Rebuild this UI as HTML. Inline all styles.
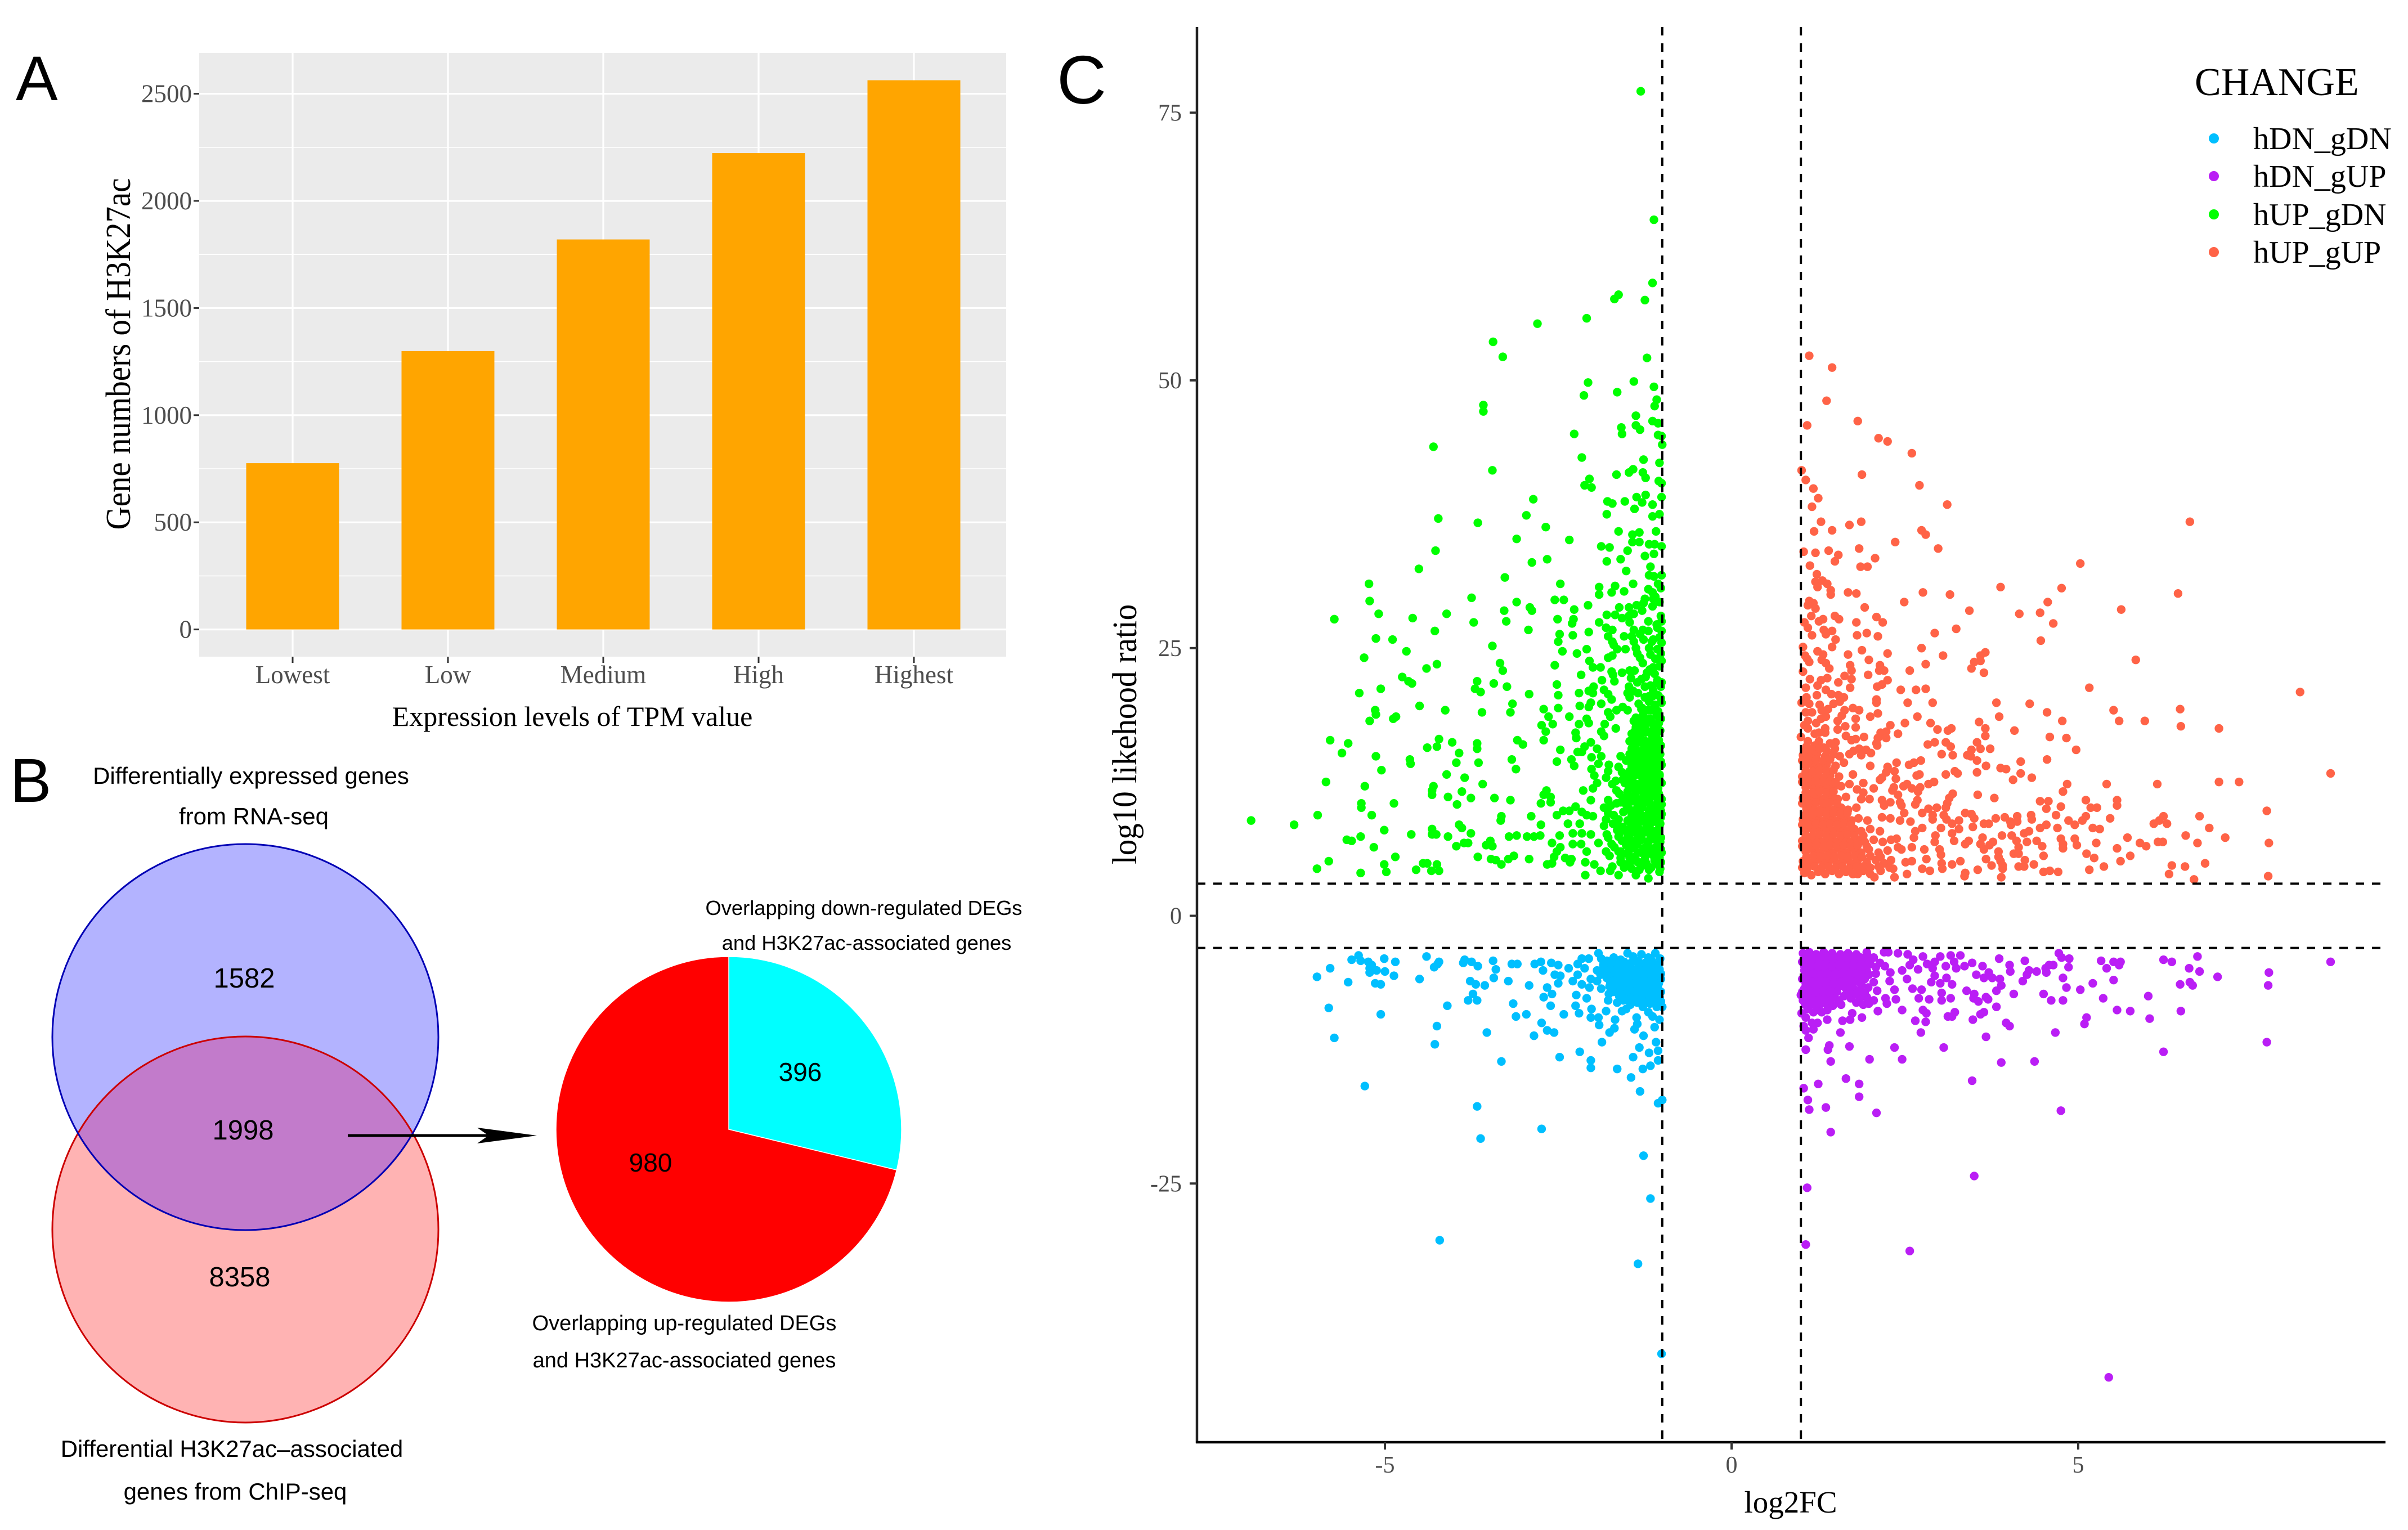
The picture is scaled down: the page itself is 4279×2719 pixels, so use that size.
<!DOCTYPE html>
<html lang="en">
<head>
<meta charset="utf-8">
<title>H3K27ac figure</title>
<style>
html,body{margin:0;padding:0;background:#fff}
svg{display:block}
text{white-space:pre}
.serif{font-family:"Liberation Serif",serif}
.sans{font-family:"Liberation Sans",sans-serif}
</style>
</head>
<body>
<svg id="fig" xmlns="http://www.w3.org/2000/svg" width="4279" height="2719" viewBox="0 0 4279 2719">
<rect x="0" y="0" width="4279" height="2719" fill="#fff"/>
<text class="sans" x="28" y="178" font-size="112">A</text>
<text class="sans" x="18" y="1425" font-size="110">B</text>
<text class="sans" x="1878" y="184" font-size="122">C</text>
<g id="panelA"></g>
<g id="panelB">
<defs><clipPath id="topClip"><circle cx="436" cy="1843" r="343"/></clipPath></defs>
<circle cx="436" cy="1843" r="343" fill="#B3B3FF"/>
<circle cx="436" cy="2185" r="343" fill="#FFB3B3"/>
<circle cx="436" cy="2185" r="343" fill="#C27BCB" clip-path="url(#topClip)"/>
<circle cx="436" cy="2185" r="343" fill="none" stroke="#CC0000" stroke-width="3"/>
<circle cx="436" cy="1843" r="343" fill="none" stroke="#0000B4" stroke-width="3"/>
<g id="pie"></g>
<line x1="618" y1="2018" x2="900" y2="2018" stroke="#000" stroke-width="5"/>
<polygon points="954,2018 848,2004 868,2018 848,2032" fill="#000"/>
<g class="sans" font-size="42" text-anchor="middle" fill="#000">
<text x="446" y="1393">Differentially expressed genes</text>
<text x="451" y="1465">from RNA-seq</text>
<text x="412" y="2589">Differential H3K27ac–associated</text>
<text x="418" y="2665">genes from ChIP-seq</text>
</g>
<g class="sans" font-size="49" text-anchor="middle" fill="#000">
<text x="434" y="1755">1582</text>
<text x="432" y="2025">1998</text>
<text x="426" y="2286">8358</text>
</g>
<g class="sans" font-size="36.3" text-anchor="middle" fill="#000">
<text x="1535" y="1626">Overlapping down-regulated DEGs</text>
<text x="1540" y="1688">and H3K27ac-associated genes</text>
</g>
<g class="sans" font-size="38" text-anchor="middle" fill="#000">
<text x="1216" y="2364">Overlapping up-regulated DEGs</text>
<text x="1216" y="2430">and H3K27ac-associated genes</text>
</g>
</g>
<g id="panelC"></g>
</svg>
<script>
// ---------- Panel A data ----------
const barCategories = ["Lowest", "Low", "Medium", "High", "Highest"];
const barValues = [776, 1299, 1820, 2223, 2563];
const barTickLabels = [0, 500, 1000, 1500, 2000, 2500];
const barMinorTicks = [250, 750, 1250, 1750, 2250];

// ---------- Panel B data ----------
const pieLabels = ["396", "980"];
const pieValues = [396, 980];

// ---------- Panel C data ----------
const volcanoXTicks = [-5, 0, 5];
const volcanoYTicks = [-25, 0, 25, 50, 75];
const xCutoffs = [-1, 1];
const yCutoffs = [-3, 3];
const seriesNames = ["hDN_gDN", "hDN_gUP", "hUP_gDN", "hUP_gUP"];

const hDnGdn = [[-1.01,-40.9],[-1.35,-32.5],[-4.21,-30.3],[-1.17,-26.4],[-1.27,-22.4],[-3.62,-20.8],[-2.74,-19.9],[-3.67,-17.8],[-1,-17.2],[-1.06,-17.5],[-1.32,-16.4],[-5.29,-15.9],[-1.45,-15.1],[-1.65,-14.3],[-1.28,-14.3],[-1.17,-14],[-2.03,-14.2],[-2.03,-13.5],[-3.32,-13.6],[-2.48,-13.2],[-1.42,-13.2],[-2.19,-12.7],[-1.06,-13.5],[-1.19,-12.8],[-1.06,-12.6],[-1.33,-12.3],[-1.09,-11.8],[-1.87,-11.8],[-4.28,-12],[-5.73,-11.4],[-2.85,-11.2],[-2.56,-10.9],[-1.27,-11.2],[-3.53,-10.9],[-2.66,-10.7],[-1.76,-10.9],[-4.25,-10.3],[-1.69,-10.5],[-1.11,-10.4],[-1.4,-10.6],[-2.74,-10],[-1.91,-10.2],[-1.36,-10.1],[-1.14,-9.4],[-1.04,-9.7],[-3.11,-9.4],[-5.06,-9.2],[-2.96,-9.2],[-2.42,-9.2],[-2.03,-9.5],[-1.92,-9.5],[-1.68,-9.7],[-1.37,-9.5],[-5.81,-8.6],[-4.1,-8.4],[-3.15,-8.2],[-2.61,-8.4],[-2.25,-8.4],[-2.2,-9.1],[-2.02,-8.7],[-1.81,-8.9],[-1.58,-8.9],[-1,-8.5],[-3.8,-7.9],[-3.67,-7.9],[-2.71,-7.6],[-2.59,-7.3],[-3.73,-7.3],[-2.24,-7.4],[-2.09,-7.7],[-1.78,-7.9],[-1.65,-8.1],[-3.56,-6.5],[-2.92,-6.5],[-2.66,-6.7],[-3.69,-6.4],[-3.77,-6.1],[-3.22,-6.1],[-2.29,-6.1],[-2.5,-6.3],[-3.43,-5.8],[-5.53,-6.2],[-5.14,-6.3],[-5.06,-6.4],[-4.5,-5.9],[-5.98,-5.7],[-4.87,-5.6],[-5,-5.2],[-5.12,-5.1],[-5.22,-5.3],[-5.22,-4.9],[-5.19,-4.6],[-5.24,-4.3],[-5.35,-4.2],[-5.48,-4.1],[-5.38,-3.7],[-5.01,-4],[-4.85,-4.3],[-5.79,-4.9],[-4.4,-3.8],[-4.22,-4.3],[-4.24,-4.5],[-4.29,-4.8],[-3.85,-4.1],[-3.87,-4.4],[-3.75,-4.3],[-3.66,-4.7],[-3.44,-4.2],[-3.4,-5],[-3.17,-4.5],[-3.09,-4.5],[-2.84,-4.5],[-2.75,-4.3],[-2.6,-4.4],[-2.5,-4.6],[-2.72,-5.1],[-2.35,-4.9],[-2.55,-5.5],[-2.47,-5.6],[-2.22,-5.5],[-2.22,-4.5],[-2.16,-4],[-2.06,-4],[-2.12,-4.9],[-2.03,-5.9],[-2.16,-6.4],[-2.05,-6.7],[-1.92,-3.5],[-1.88,-4],[-1.94,-5.1],[-1.94,-6.1],[-1.88,-6.8],[-1.77,-7.3],
[-1.8,-4.2],[-1.7,-3.9],[-1.6,-4.1],[-1.5,-3.5],[-1.42,-3.8],[-1.3,-3.6],[-1.2,-3.9],[-1.1,-3.5],[-1.03,-4],
[-1.84,-5],[-1.74,-4.8],[-1.64,-5],[-1.54,-4.7],[-1.44,-5],[-1.34,-4.7],[-1.24,-5],[-1.14,-4.7],[-1.04,-5],
[-1.8,-5.8],[-1.7,-5.7],[-1.6,-5.9],[-1.5,-5.6],[-1.4,-5.9],[-1.3,-5.6],[-1.2,-5.9],[-1.1,-5.6],[-1.02,-5.9],
[-1.76,-6.6],[-1.66,-6.8],[-1.56,-6.5],[-1.46,-6.8],[-1.36,-6.5],[-1.26,-6.8],[-1.16,-6.5],[-1.06,-6.8],
[-1.62,-7.5],[-1.52,-7.3],[-1.44,-7.6],[-1.34,-7.3],[-1.24,-7.6],[-1.14,-7.3],[-1.04,-7.6],
[-1.46,-8.3],[-1.36,-8.1],[-1.28,-8.5],[-1.18,-8.2],[-1.08,-8.5],[-1.52,-8.7],[-1.2,-9],
[-1.85,-4.6],[-1.75,-4.4],[-1.65,-4.5],[-1.55,-4.3],[-1.45,-4.4],[-1.35,-4.2],[-1.25,-4.4],[-1.15,-4.2],[-1.05,-4.5],
[-1.89,-5.5],[-1.79,-5.4],[-1.69,-5.3],[-1.59,-5.4],[-1.49,-5.2],[-1.39,-5.4],[-1.29,-5.2],[-1.19,-5.4],[-1.09,-5.2],[-1.02,-5.4],
[-1.75,-6.2],[-1.65,-6.3],[-1.55,-6.1],[-1.45,-6.3],[-1.35,-6.1],[-1.25,-6.3],[-1.15,-6.1],[-1.05,-6.3],
[-1.7,-7.1],[-1.6,-7],[-1.5,-7],[-1.4,-7.1],[-1.3,-7],[-1.2,-7.1],[-1.1,-7],[-1.02,-7.1],
[-1.56,-7.9],[-1.46,-7.8],[-1.38,-7.8],[-1.28,-7.9],[-1.18,-7.8],[-1.08,-7.9],[-1.02,-8]];

const hDnGup = [[8.64,-4.3],[6.72,-3.8],[6.23,-4.1],[6.35,-4.3],[6.6,-4.9],[6.75,-5.2],[7.01,-5.7],[7.75,-5.3],[7.74,-6.5],[6.47,-6.4],[6.61,-6.2],[6.65,-6.5],[6.01,-7.5],[6.48,-8.9],[6.03,-9.6],[7.72,-11.8],[6.23,-12.7],[5.33,-4.2],[5.51,-4.3],[5.61,-4.3],[5.59,-4.6],[5.41,-4.9],[5.51,-6],[5.21,-6.3],[5.36,-7.7],[5.56,-8.8],[5.75,-8.9],[5.12,-9.5],[5.09,-10.1],[4.67,-10.9],[4.72,-3.5],[4.76,-3.9],[4.87,-4],[4.64,-4.6],[4.58,-4.6],[4.53,-4.9],[4.54,-5.3],[4.86,-4.8],[4.78,-5.8],[4.83,-6.7],[5.03,-6.9],[4.78,-7.9],[4.61,-7.9],[4.5,-7.3],[4.07,-7.3],[3.86,-4],[4.23,-4.2],[4.01,-4.6],[4.02,-5.2],[4.29,-5.1],[4.4,-5.2],[4.26,-5.5],[4.2,-6.1],[3.87,-5.9],[3.89,-6.5],[3.82,-7],[3.82,-8.5],[3.64,-9],[3.59,-9.2],[3.96,-10],[4.01,-10.3],[3.48,-9.7],[3.67,-11.3],[4.37,-13.6],[3.89,-13.7],[3.47,-15.4],[4.75,-18.2],[3.5,-24.3],[5.44,-43.1],[2.57,-31.3],[1.07,-30.7],[1.09,-25.4],[2.09,-18.4],[1.43,-20.2],[1.36,-17.9],[1.12,-18.1],[1.1,-17.2],[1.04,-16.1],[1.25,-15.7],[1.65,-15.2],[1.84,-15.7],[1.84,-16.9],[1.43,-13.6],[1.99,-13.4],[2.46,-13.4],[2.35,-12.3],[3.06,-12.3],[1.7,-12.2],[1.41,-12.1],[1.39,-12.5],[1.07,-12.5],[1.11,-11.4],[1.57,-10.9],[2.73,-10.9],[2.65,-9.8],[2.8,-9.9],[2.76,-8.8],[2.81,-9.1],[2.46,-8.8],[3.12,-9.4],[3.18,-9.4],[3.22,-9],[2.85,-7.8],[2.7,-7.7],[3.03,-7.9],[3.16,-7.7],[3.03,-7.2],[3.49,-7.7],[3.56,-8],[3.67,-7.6],[3.7,-7.8],[3.5,-7.3],[3.39,-7],[2.61,-6.8],[2.74,-6.9],[2.88,-6.2],[3.01,-6.3],[3.18,-6.4],[3.1,-5.8],[2.93,-5.6],[2.53,-5.9],[3.53,-5.5],[3.64,-5.8],[3.76,-5.8],[3.71,-5.3],[3.62,-4.7],[3.47,-4.4],[3.36,-4.7],[3.24,-4.9],[3.09,-4.7],[2.9,-4.9],[2.82,-4.5],[3.3,-3.7],[3.16,-3.7],[3.01,-3.8],[2.76,-3.8],[3.21,-4.3],[2.93,-4.3],[2.54,-3.6],[2.4,-3.5],[2.26,-3.4],[2.2,-3.4],[2.62,-4.1],[2.57,-4.6],[2.69,-5],[2.46,-5.1],[2.29,-5.3],[2.21,-4.7],[2.14,-4.4],[2.28,-6.1],[2.35,-6.9],[2.37,-7.8],[2.22,-7.7],[2.24,-8.2],[2.11,-8.9],[1.88,-9.5],[1.71,-9.7],[1.6,-9.8],[1.74,-9.1],[1.38,-9.7],[1.24,-10],[1.16,-10],[1.18,-10.6],[1.07,-10.7],[1.04,-10.3],[1.01,-9.1],[1.07,-9.5],[1,-7.4],
[1.03,-3.5],[1.12,-3.4],[1.22,-3.6],[1.33,-3.4],[1.45,-3.5],[1.57,-3.6],[1.68,-3.5],[1.8,-3.6],[1.95,-3.4],[2.05,-3.9],
[1.02,-4.3],[1.1,-4.2],[1.2,-4.4],[1.3,-4.2],[1.4,-4.4],[1.5,-4.2],[1.6,-4.4],[1.7,-4.2],[1.8,-4.4],[1.9,-4.3],[2,-4.5],
[1.05,-5.1],[1.15,-5],[1.25,-5.2],[1.35,-5],[1.45,-5.2],[1.55,-5],[1.65,-5.2],[1.75,-5],[1.85,-5.2],[1.95,-5.1],[2.08,-5.4],
[1.02,-5.9],[1.12,-5.8],[1.22,-6],[1.32,-5.8],[1.42,-6],[1.52,-5.8],[1.62,-6],[1.72,-5.8],[1.82,-6],[1.92,-5.9],[2.05,-6.2],
[1.05,-6.8],[1.15,-6.6],[1.25,-6.8],[1.35,-6.6],[1.45,-6.8],[1.55,-6.6],[1.65,-6.8],[1.75,-6.7],[1.85,-6.9],[1.97,-6.7],[2.1,-7],
[1.08,-7.5],[1.18,-7.4],[1.28,-7.6],[1.38,-7.4],[1.48,-7.6],[1.62,-7.5],[1.72,-7.7],[1.85,-7.7],[1.95,-7.6],[2.05,-7.9],
[1.06,-8.3],[1.16,-8.2],[1.26,-8.4],[1.36,-8.2],[1.46,-8.4],[1.58,-8.3],[1.9,-8.3],[1.18,-9],[1.3,-9],
[1.06,-3.9],[1.16,-3.8],[1.26,-3.9],[1.36,-3.8],[1.46,-3.9],[1.56,-3.8],[1.66,-3.9],[1.76,-3.8],[1.86,-3.9],[1.97,-3.8],
[1.05,-4.7],[1.15,-4.6],[1.25,-4.7],[1.35,-4.6],[1.45,-4.7],[1.55,-4.6],[1.65,-4.7],[1.75,-4.6],[1.85,-4.7],[1.95,-4.6],[2.08,-4.8],
[1.08,-5.5],[1.18,-5.4],[1.28,-5.5],[1.38,-5.4],[1.48,-5.5],[1.58,-5.4],[1.68,-5.5],[1.78,-5.4],[1.88,-5.5],[1.98,-5.5],
[1.07,-6.3],[1.17,-6.2],[1.27,-6.3],[1.37,-6.2],[1.47,-6.3],[1.57,-6.2],[1.67,-6.3],[1.77,-6.2],[1.87,-6.4],
[1.02,-7.1],[1.12,-7],[1.22,-7.1],[1.32,-7],[1.42,-7.1],[1.52,-7.1],[1.7,-7.2],[1.8,-7.3],[1.92,-7.2],
[1.03,-7.9],[1.13,-7.8],[1.23,-7.9],[1.33,-7.8],[1.43,-7.9],[1.55,-7.9],[1.8,-8.1],[1.98,-8.2],[1.1,-8.7],[1.22,-8.8],[1.38,-8.8]];

const hUpGdn = [[-1.31,77],[-1.12,65],[-1.14,59.1],[-1.63,58],[-1.69,57.6],[-1.25,57.5],[-2.09,55.8],[-2.8,55.3],[-3.44,53.6],[-3.3,52.2],[-1.22,52.1],[-1.41,49.9],[-2.07,49.8],[-1.12,49.4],[-1.65,48.9],[-2.13,48.6],[-1.08,48.2],[-1.11,47.6],[-3.58,47.7],[-3.58,47.1],[-1.38,46.7],[-1.14,46.2],[-1.06,46],[-1.38,45.8],[-1.59,45.6],[-1.32,45.4],[-1.58,45],[-2.27,45],[-1.06,44.9],[-1.01,44.8],[-4.3,43.8],[-1,44],
[-2.16,42.8],[-1.27,42.6],[-1.04,42.3],[-3.45,41.6],[-1.42,41.7],[-1.48,41.4],[-1.66,41.2],[-1.28,41.4],[-1.24,40.9],[-2.05,40.8],[-1.05,40.6],[-1.01,40.4],[-2.12,40.2],[-2.02,40],[-1.01,39.1],[-1.24,39.3],[-1.37,39.1],[-2.86,38.9],[-1.79,38.7],[-1.72,38.5],[-1.54,38.7],[-1.29,38.6],[-1.14,38.4],[-1.4,38],[-1.8,37.5],[-2.96,37.4],[-1.14,37.3],[-1.04,37.5],[-4.23,37.1],[-3.66,36.7],[-2.68,36.3],[-1.63,35.9],[-1.33,35.8],[-1.43,35.6],[-1.09,35.9],[-3.1,35.2],[-2.34,35.1],[-1.43,34.9],[-1.33,34.9],[-1.19,34.7],[-1.11,34.7],[-1.01,34.5],[-1.88,34.5],[-1.76,34.4],[-4.27,34.1],[-1.5,34.1],[-1.12,33.8],[-1.25,33.6],[-1.6,33.3],[-2.66,33.3],[-1.8,33.1],[-2.88,33],[-1.17,32.6],[-4.51,32.4],[-1.52,32.2],[-1.19,31.8],[-1.01,31.8],[-3.27,31.6],[-1.12,31.7],[-1.06,31],[-5.23,31],[-2.47,31],[-1.68,30.8],[-1.42,31],[-1.91,30.7],[-1.55,30.3],[-1.73,30.2],[-1.91,30],[-1.14,30.2],[-1.02,30.6],[-3.75,29.7],[-5.22,29.4],[-2.55,29.5],[-2.42,29.5],[-3.1,29.3],[-1.25,29.6],[-1.13,29.6],[-1.27,29.2],[-1.04,29.3],[-2.07,29],[-1.62,28.8],[-1.14,28.9],[-2.91,28.8],[-3.28,28.5],[-1.48,28.8],[-2.27,28.6],[-2.88,28.5],[-1.29,28.5],[-5.09,28.2],[-4.11,28.2],[-1.8,28.1],[-1.68,28.1],[-1.41,28.2],[-1.58,27.8],[-1.48,28],[-1.02,28],[-5.73,27.7],[-4.6,27.8],[-2.51,27.7],[-2.28,27.7],[-3.25,27.5],[-1.47,27.4],[-3.72,27.4],[-1.91,27.4],[-2.3,27.3],[-1.01,27.5],
[-1.81,26.9],[-1.72,26.7],[-2.93,26.7],[-1.41,26.7],[-4.28,26.6],[-1.28,26.7],[-1.2,26.6],[-1.07,26.9],[-1.01,26.6],[-2.06,26.5],[-2.48,26.3],[-2.29,26.2],[-1.55,26.1],[-1.78,26.1],[-5.13,25.9],[-1.44,26.1],[-4.89,25.8],[-1.27,25.8],[-1.13,25.8],[-2.5,25.6],[-1.72,25.6],[-1.41,25.6],[-1.01,25.5],[-1.7,25.3],[-3.45,25.2],[-1.19,25],[-1.65,24.9],[-1.53,24.9],[-1.38,25],[-2.09,24.9],[-1.07,24.9],[-4.69,24.7],[-2.44,24.7],[-2.23,24.5],[-1.17,24.4],[-1.36,24.5],[-1.72,24.3],[-1.32,24.1],[-1.78,24.1],[-5.3,24.1],[-2.05,23.8],[-1.01,23.8],[-4.25,23.5],[-2.55,23.4],[-3.34,23.6],[-4.4,23.1],[-2,23.2],[-1.89,23.2],[-1.13,23.2],[-1.47,22.9],[-1.4,22.9],[-1.04,23.3],[-3.3,22.9],[-1.73,22.8],[-1.58,22.7],[-1.22,22.7],[-2.17,22.5],[-1.11,22.6],[-1.71,22.5],[-1.24,22.3],[-4.75,22.3],[-1.69,21.9],[-3.67,21.9],[-1.87,22],[-4.66,21.9],[-4.61,21.7],[-3.43,21.7],[-2.52,21.6],[-1.01,21.8],[-1.36,21.8],[-3.24,21.4],[-5.06,21.2],[-1.99,21.4],[-1.48,21.4],[-1.25,21.4],[-1.02,21.4],[-3.7,21.2],[-1.84,21.1],[-2.06,21],[-2,20.8],[-3.62,20.9],[-1.13,21],[-2.2,20.8],[-2.92,20.7],[-1.5,20.8],[-1.35,20.8],[-5.37,20.8],[-1.78,20.7],[-2.5,20.6],[-1.19,20.5],[-1.47,20.4],[-1.73,20.2],[-1.19,20],[-3.16,19.8],[-2.03,19.9],[-1.88,19.8],[-1.01,19.9],[-2.19,19.6],[-4.5,19.6],[-1.57,19.5],[-2.5,19.4],[-2.06,19.5],[-2.71,19.3],[-1.29,19.4],[-4.13,19.2],[-5.14,19.2],[-1.66,19.2],[-1.5,19.2],[-1.21,19.2],[-3.6,19],[-3.19,19],[-1.78,19],[-5.13,18.8],[-1.07,19],[-2.64,18.6],[-2.34,18.6],[-1.75,18.6],[-4.84,18.6],[-4.88,18.4],[-1.02,18.4],[-2.09,18.4],[-5.22,18.2],[-1.41,18.2],[-1.25,18.3],[-2.06,18],[-2.2,17.9],[-2.58,17.9],[-1.83,17.9],[-2.74,17.8],[-1.1,17.8],[-1.38,17.6],[-1.67,17.5],[-2.68,17.2],[-1.25,17.4],[-2.25,17.1],[-1.88,17.2],[-1.44,17],[-1.84,16.8],[-1.15,17],[-2.24,16.6],[-1.35,16.7],[-5.79,16.4],[-2.71,16.4],[-3.09,16.4],[-4.03,16.2],[-4.22,16.5],[-1.47,16.3],[-5.53,16.1],[-3.01,16],[-2.03,16.2],[-3.67,16.1],[-1.22,16.2],[-4.25,15.8],[-4.39,15.7],[-3.67,15.6],[-2.12,15.8],[-1.94,15.6],[-2.47,15.5],[-1.41,15.7],[-1.1,15.9],[-5.62,15.2],[-3.93,15.2],[-2.16,15.3],[-2.22,15.3],[-1.6,14.9],[-5.13,14.9],[-1.47,15.1],[-1.88,14.9],[-1.22,15.1],[-2.02,14.8],[-4.64,14.6],[-3.17,14.6],[-2.31,14.6],[-1.41,14.5],[-1.05,14.6],[-4.63,14.2],[-2.52,14.4],[-3.97,14.3],[-3.65,14.3],[-2.27,14],[-1.92,14.2],[-1.77,14.1],[-1.01,14.1],[-1.28,14.1],[-3.11,13.7],[-5.05,13.6],[-2.02,13.7],[-1.63,13.9],[-1.19,13.7],[-1.78,13.5],[-1.47,13.5],[-4.11,13.2],[-1.98,13.1],[-3.85,12.9],[-1.81,12.9],[-1.25,13.2],[-1.04,13.2],[-1.57,12.7],[-5.85,12.5],[-3.59,12.3],[-1.94,12.4],[-1.41,12.4],[-5.29,12.1],[-1.16,12.4],[-1.72,12.3],[-4.3,12.1],[-2,11.9],[-1.28,11.9],[-1.01,12.4],[-4.32,11.7],[-2.14,11.7],[-2.67,11.7],[-1.66,11.7],[-3.89,11.6],[-1.1,11.6],[-4.32,11.3],[-2.71,11.3],[-1.47,11.1],[-4.09,11.1],[-2.61,11.1],[-3.76,11],[-3.42,11],[-3.19,10.8],[-2.03,10.8],[-1.78,10.8],[-1.19,10.9],[-2.61,10.6],[-2.75,10.5],[-5.34,10.5],[-4.87,10.5],[-3.96,10.4],[-1.66,10.5],[-1.28,10.4],[-1.04,10.7],[-5.34,10.1],[-1.84,10.1],[-2.25,10.2],[-2.34,9.8],[-2.43,9.8],[-2.16,9.7],[-1.47,9.9],[-1.78,9.6],[-1.19,9.7],[-5.97,9.4],[-5.19,9.4],[-2.52,9.4],[-2.89,9.3],[-3.32,9.3],[-2.09,9.4],[-2,9.3],[-1.01,9.5],[-3.33,8.9],[-6.93,8.9],[-1.81,9],[-1.41,9],[-3.93,8.5],[-2.75,8.5],[-2.36,8.6],[-2.19,8.6],[-1.66,8.5],[-1.22,8.5],[-6.31,8.5],[-4.32,8.1],[-3.89,8.2],[-1.84,8.4],[-1.47,8.1],[-1.04,8.4],[-5.01,8],[-3.76,7.7],[-4.62,7.6],[-2.29,7.7],[-2.16,7.7],[-2.03,7.6],[-1.8,7.6],
[-3.1,7.5],[-3.21,7.4],[-4.32,7.6],[-4.26,7.6],[-2.95,7.4],[-2.48,7.5],[-2.76,7.5],[-2.85,7.4],[-4.09,7.4],[-1.63,7.4],[-1.35,7.4],[-5.35,7.4],[-5.55,7.1],[-5.48,7],[-3.48,7],[-3.8,6.8],[-3.86,6.8],[-2.59,6.8],[-2.29,6.7],[-2.17,6.7],[-1.92,6.8],[-1.73,6.7],[-1.53,7],[-1.19,7],[-3.54,6.6],[-3.97,6.5],[-3.45,6.5],[-5.16,6.4],[-2.47,6.4],[-1.41,6.5],[-1.04,6.4],[-2.52,6],[-1.81,6],[-2.09,6],[-1.63,6],[-1.22,5.8],[-2.56,5.5],[-4.85,5.5],[-3.14,5.6],[-3.66,5.5],[-3.22,5.3],[-3.47,5.3],[-3.4,5.2],[-2.92,5.3],[-2.4,5.4],[-2.31,5.3],[-1.47,5.4],[-1.04,5.4],[-5.81,5.1],[-2.33,5],[-2.11,5],[-4.45,4.9],[-4.39,4.9],[-4.25,4.8],[-5.01,4.8],[-3.32,4.8],[-2.66,4.8],[-2.59,4.9],[-1.98,4.8],[-1.6,5],[-1.35,5],[-5.98,4.4],[-4.55,4.3],[-4.33,4.2],[-4.22,4.2],[-4.98,4.1],[-5.35,4],[-1.89,4.2],[-1.75,4.2],[-1.44,4.4],[-1.19,4.3],[-1.04,4.1],[-2.11,3.8],[-1.63,3.8],[-1.38,3.8],[-1.2,3.5],
[-1.72,4.6],[-1.55,4.5],[-1.47,4.8],[-1.33,4.3],[-1.28,4.7],[-1.16,4.5],[-1.09,4.9],[-1.03,4.4],[-1.76,5.6],[-1.6,5.4],[-1.5,5.8],[-1.4,5.5],[-1.31,5.9],[-1.25,5.3],[-1.14,5.7],[-1.07,5.5],[-1.01,5.9],[-1.69,6.4],[-1.52,6.6],[-1.44,6.3],[-1.36,6.7],[-1.27,6.3],[-1.21,6.6],[-1.12,6.3],[-1.05,6.7],[-1.78,7.3],[-1.62,7.7],[-1.5,7.4],[-1.42,7.8],[-1.33,7.5],[-1.24,7.8],[-1.16,7.4],[-1.08,7.7],[-1.02,7.3],[-1.71,8.6],[-1.57,8.3],[-1.46,8.7],[-1.37,8.4],[-1.29,8.8],[-1.18,8.5],[-1.11,8.8],[-1.03,8.6],[-1.7,9.4],[-1.56,9.7],[-1.44,9.4],[-1.33,9.7],[-1.26,9.3],[-1.14,9.5],[-1.07,9.8],[-1.74,10.3],[-1.6,10.6],[-1.52,10.4],[-1.42,10.7],[-1.35,10.4],[-1.22,10.6],[-1.13,10.3],[-1.06,10.7],[-1.01,10.4],[-1.62,11.4],[-1.5,11.6],[-1.39,11.3],[-1.32,11.7],[-1.22,11.4],[-1.15,11.7],[-1.05,11.4],[-1.67,12.6],[-1.54,12.4],[-1.44,12.7],[-1.36,12.3],[-1.27,12.6],[-1.19,12.4],[-1.1,12.7],[-1.03,12.4],[-1.58,13.4],[-1.42,13.6],[-1.34,13.4],[-1.24,13.7],[-1.15,13.4],[-1.08,13.6],[-1.52,14.5],[-1.38,14.4],[-1.28,14.7],[-1.18,14.4],[-1.1,14.7],[-1.02,14.4],[-1.44,15.6],[-1.35,15.4],[-1.26,15.7],[-1.16,15.4],[-1.06,15.6],[-1.42,16.4],[-1.32,16.6],[-1.24,16.3],[-1.14,16.6],[-1.05,16.4],[-1.4,17.2],[-1.3,17.6],[-1.2,17.2],[-1.12,17.5],[-1.03,17.3],[-1.38,18.5],[-1.28,18.7],[-1.18,18.4],[-1.08,18.7],[-1.34,19.8],[-1.2,20.2],[-1.1,19.7],[-1.02,20.3],
[-1.36,5.1],[-1.23,4.9],[-1.11,5.2],[-1.02,5],[-1.46,5.2],[-1.57,4.9],
[-1.6,6],[-1.48,6.1],[-1.35,5.9],[-1.24,6],[-1.17,6.1],[-1.09,5.9],[-1.02,6.2],
[-1.58,7],[-1.46,7.1],[-1.38,6.9],[-1.29,7.1],[-1.19,7],[-1.1,7.1],[-1.03,6.9],
[-1.65,8],[-1.52,7.9],[-1.41,8.1],[-1.31,8],[-1.22,8.2],[-1.13,7.9],[-1.05,8.1],
[-1.63,9],[-1.5,8.9],[-1.39,9.1],[-1.3,9],[-1.2,9.2],[-1.1,9],[-1.02,9.2],
[-1.48,10],[-1.38,9.9],[-1.29,10.1],[-1.18,9.9],[-1.09,10.1],[-1.02,9.8],
[-1.56,11],[-1.46,11.1],[-1.36,10.9],[-1.27,11.1],[-1.18,11],[-1.09,11.1],[-1.01,10.9],
[-1.48,12],[-1.4,11.9],[-1.31,12.1],[-1.23,11.9],[-1.14,12.1],[-1.06,11.9],
[-1.5,13],[-1.4,13.1],[-1.3,13],[-1.21,13.1],[-1.12,12.9],[-1.04,13.1],
[-1.44,14],[-1.33,14.1],[-1.23,14],[-1.14,14.1],[-1.06,13.9],
[-1.41,15],[-1.31,15],[-1.21,15.1],[-1.12,15],[-1.03,15.1],
[-1.38,16],[-1.28,16.1],[-1.19,15.9],[-1.1,16.1],[-1.02,15.9],
[-1.35,16.9],[-1.25,17.1],[-1.16,17],[-1.07,17.1],
[-1.33,18],[-1.23,17.9],[-1.14,18],[-1.05,18],
[-1.3,19.3],[-1.16,19.2],[-1.06,19.1],[-1.25,20.4],[-1.14,20.5],[-1.06,20.6],[-1.42,21],[-1.17,21.5],[-1.08,21.7],[-1.3,22.1],[-1.07,22],[-1.45,22.2],[-1.18,23],[-1.28,23.6],[-1.02,24.5],[-1.1,24],[-1.15,25.6],[-1.04,26],[-1.32,26.3],[-1.08,27.2],[-1.2,27.5],[-1.37,29],[-1.1,29.8],[-1.2,30.5]];

const hUpGup = [[1.12,52.3],[1.45,51.2],[1.37,48.1],[1.09,45.8],[1.82,46.2],[2.12,44.6],[2.25,44.3],[2.6,43.2],[1.01,41.6],[1.07,40.7],[1.88,41.2],[2.71,40.2],[1.18,39.9],[1.25,39],[1.16,38.2],[3.11,38.4],[1.29,36.8],[1.87,36.8],[1.7,36.5],[6.61,36.8],[1.19,35.9],[1.45,36],[2.74,36],[2.8,35.6],[2.36,34.9],[1.84,34.3],[2.98,34.3],[1.04,34],[1.21,33.9],[1.4,34.1],[1.54,33.7],[1.49,33.1],[2.07,33.4],[5.03,32.9],[1.13,32.7],[1.86,32.6],[1.96,32.6],[1.23,31.9],[1.21,31.2],[1.31,31.3],[1.38,31],[1.24,30.7],[3.88,30.7],[4.76,30.6],[1.43,30.4],[1.68,30.2],[1.8,30.1],[2.76,30.2],[6.44,30.1],[1.43,30],[3.15,30],[4.56,29.3],[2.49,29.3],[1.12,29.4],[1.18,29.2],[1.1,29],[1.92,28.8],[1.21,28.7],[3.43,28.5],[5.62,28.6],[4.45,28.3],[4.15,28.2],[1.15,28],[1.49,28],[2.09,27.9],[1.55,27.7],[1.32,27.7],[1.26,27.5],[1.05,27.4],[1.8,27.4],[2.18,27.4],[4.64,27.3],[3.24,26.8],[1.1,26.9],[1.33,26.7],[1.45,26.6],[2.93,26.4],[1.36,26.3],[1.95,26.4],[1.81,26.2],[1.16,26.2],[2.11,26.1],[1.5,25.8],[4.46,25.7],[1.03,25.1],[1.45,25.1],[2.74,25],[1.88,24.8],[1.24,24.7],[3.66,24.6],[2.25,24.5],[1.68,24.4],[1.32,24.4],[1.06,24.3],[3.59,24.3],[3.05,24.3],[5.83,23.9],[1.09,24],[1.3,23.9],[1.98,23.9],[3.59,23.8],[3.5,23.7],[1.12,23.7],[1.36,23.6],[2.8,23.5],[1.71,23.4],[2.14,23.4],[1.41,23.1],[2.2,22.9],[3.46,23.1],[2.57,22.9],[1.73,22.9],[2.13,22.9],[3.64,22.7],[1.03,22.8],[1.97,22.5],[1.63,22.4],[1.38,22.2],[1.13,22.1],[1.29,22],[1.73,22.1],[2.25,22],[1.54,21.8],[2.17,21.6],[1.24,21.5],[2.1,21.4],[5.16,21.3],[1.07,21.3],[1.71,21.3],[2.44,21.1],[2.8,21.2],[2.66,21.1],[1.36,21.1],[8.2,20.9],[1.44,20.7],[1.23,20.6],[1.08,20.4],[1.54,20.6],[1.62,20.4],[2.09,20.2],[3.82,19.9],[2.54,19.9],[2.9,19.9],[4.3,19.8],[1.01,19.9],[2.09,19.9],[1.56,20],[1.12,19.8],[1.27,19.7],[6.47,19.3],[1.47,19.8],[1.75,19.4],[4.55,19],[5.51,19.2],[1.84,19.2],[1.39,19.3],[1.07,19],[1.63,19.2],[2.11,18.9],[1.59,18.7],[2,18.6],[3.86,18.6],[2.68,18.6],[5.59,18.2],[5.96,18.2],[4.77,18.2],[1.79,18.4],[1.29,18.4],[3.57,18.1],[1.53,18.2],[2.5,18],[2.87,18],[1.1,18.2],[2.29,17.8],[1.64,17.7],[6.48,17.7],[7.03,17.5],[3.17,17.5],[3.66,17.5],[2.97,17.4],[1.79,17.6],[1.1,17.5],[4.08,17.3],[3.12,17.3],[1.35,17.5],[1.53,17.4],[3.66,16.8],[2.15,17.1],[2.23,17.2],[2.4,17],[4.59,16.7],[4.83,16.6],[1.91,16.7],[1.65,16.8],[1,16.7],[1.26,17.1],[1.35,17.1],[2.11,16.6],[2.23,16.6],[1.73,16.4],[1.79,16.5],[2.93,16.2],[3.54,16.2],[3.09,16.2],[1.5,16.2],[2.09,16.1],[2.83,16],[3.16,15.8],[1.26,16.3],[1.1,16.3],[4.97,15.5],[3.73,15.6],[3.46,15.5],[3.59,15.6],[2.1,15.9],[1.84,15.6],[1.49,15.6],[1.94,15.5],[1.76,15.4],[2.01,15.2],[1.7,15.1],[3.03,15.1],[3.4,15],[3.19,15],[1.87,15],[3.45,14.9],[1.56,14.9],[4.55,14.6],[4.17,14.4],[2.73,14.5],[2.38,14.3],[2.63,14.3],[3.54,14.5],[2.56,14.1],[2,14],[3.67,14],[3.88,13.8],[3.96,13.7],[2.25,13.9],[8.64,13.3],[3.54,13.4],[4.17,13.3],[3.09,13.2],[3.22,13.5],[3.26,13.3],[2.71,13.2],[2.35,13.5],[2.23,13.4],[2.67,13.1],[4.33,12.9],[4.06,12.7],[7.03,12.5],[7.32,12.5],[2.17,12.9],[2.37,12.8],[2.14,12.7],[1.9,12.4],[2.92,12.5],[2.84,12.3],[5.41,12.3],[4.84,12.3],[6.14,12.3],[2.53,12.3],[2.34,12],[2.48,12.1],[2.72,12],[2.6,11.9],[2.05,11.9],[1.81,11.8],[4.78,11.6],[2.32,11.7],[1.9,11.5],[3.19,11.4],[3.55,11.3],[2.4,11.3],[2.69,11.6],[3.79,11],[3.14,11],[1.99,10.9],[1.87,10.9],[5.11,10.8],[5.56,10.8],[4.45,10.7],[4.57,10.7],[3.11,10.5],[2.17,10.8],[2.68,10.8],[2.65,10.4],[2.43,10.6],[2.29,10.6],[2.2,10.3],[5.56,10.3],[2.45,10.3],[7.72,9.8],[4.75,10.2],[5.18,10.1],[5.27,10.1],[4.54,10],[3.09,10.1],[2.84,10],[2.96,10.1],[2.75,9.6],[2.49,9.6],[3.37,9.6],[3.46,9.5],[4.32,9.4],[4.68,9.4],[2.9,9.4],[3.06,9.4],[4.12,9.3],[3.94,9.2],[5.11,9.3],[6.23,9.3],[6.75,9.3],[3.5,9.1],[4.33,9],[3.81,9.1],[2.17,9.2],[2.29,9.1],[3.1,9],[5.46,9.1],[6.17,8.9],[4.86,8.9],[5.06,8.9],[2.43,8.9],[2.9,9],[3.28,8.9],[2.58,8.8],[4.02,8.8],[4.12,8.8],[6.28,8.6],[3.18,8.6],[3.71,8.6],[3.64,8.6],[6.09,8.6],[4.54,8.5],[4.95,8.5],[4.03,8.5],[3.48,8.3],[3.02,8.2],[2.75,8.2],[4.7,8.2],[4.45,8.2],[3.28,8.1],[5.21,8.2],[5.31,8.1],[6.89,8.2],[3.18,7.7],[2.65,7.9],[4.29,7.9],[4.22,7.7],[6.55,7.5],[3.9,7.5],[4.04,7.5],[3.62,7.3],[7.12,7.3],[2.94,7.5],[5.71,7.3],[4.75,7.2],[4.95,7.2],[2.63,7.3],[2.38,7.2],[3.42,7],[4.4,7],[4.11,7],[4.26,6.9],[3.21,7],[5.26,6.8],[6.15,6.9],[6.22,6.9],[5.89,6.8],[7.75,6.8],[6.72,6.8],[2.93,6.9],[3.77,6.9],[3.59,6.7],[3.37,6.7],[4.48,6.5],[4.98,6.6],[4.78,6.7],[5.98,6.5],[3.72,6.6],[4.14,6.4],[3.64,6.2],[5.56,6.3],[4.78,6.3],[2.4,6.4],[2.6,6.4],[2.78,6.2],[2.45,6.2],[3,6.2],[3.85,6],[4.07,5.8],[5.12,5.8],[5.75,5.6],[4.14,5.8],[3.02,5.7],[4.5,5.6],[3.85,5.5],[3.67,5.3],[5.23,5.4],[3.3,5.1],[4.23,5.2],[5.61,5.1],[3.88,5.1],[6.83,4.9],[2.51,5],[2.6,5.1],[2.81,5.3],[3.03,4.9],[3.18,4.8],[4.36,4.8],[3.75,4.7],[3.91,4.7],[4.14,4.6],[4.22,4.6],[5.37,4.6],[6.35,4.7],[6.54,4.6],[3.91,4.4],[3.04,4.4],[2.75,4.4],[2.86,4.2],[2.33,4.4],[3.55,4.3],[5.16,4.3],[4.5,4.1],[4.59,4.2],[4.71,4.1],[3.37,4],[6.31,3.9],[2.53,3.9],[1.82,3.9],[3.36,3.7],[3.89,3.6],[7.74,3.7],[2.35,3.6],[2.06,3.6],[6.67,3.4],
[1.05,4],[1.15,3.8],[1.25,4.1],[1.35,3.9],[1.45,4.2],[1.55,3.9],[1.65,4.1],[1.75,3.9],[1.9,4.2],[2,3.9],[2.15,4.2],
[1.03,5.1],[1.13,4.9],[1.22,5.2],[1.32,5],[1.42,5.2],[1.52,4.9],[1.62,5.2],[1.72,4.9],[1.82,5.2],[1.95,5],[2.08,5.2],[2.2,4.9],[2.3,5.2],
[1.07,6],[1.17,6.2],[1.27,5.9],[1.37,6.2],[1.47,5.9],[1.57,6.2],[1.67,5.9],[1.77,6.2],[1.87,5.9],[1.98,6.2],[2.12,5.9],[2.25,6.1],
[1.02,7],[1.12,6.9],[1.22,7.1],[1.32,6.9],[1.42,7.1],[1.52,6.9],[1.62,7.1],[1.72,6.9],[1.82,7.1],[1.92,6.9],[2.05,7.1],[2.18,6.9],[2.3,7.1],
[1.07,8],[1.17,8.1],[1.27,7.9],[1.37,8.1],[1.47,7.9],[1.57,8.1],[1.67,7.9],[1.77,8.1],[1.87,7.9],[2,8.1],[2.14,7.9],
[1.03,9],[1.13,8.9],[1.23,9.1],[1.33,8.9],[1.43,9.1],[1.53,8.9],[1.63,9.1],[1.73,8.9],[1.83,9.1],[1.96,8.9],
[1.08,10],[1.18,10.1],[1.28,9.9],[1.38,10.1],[1.48,9.9],[1.58,10.1],[1.68,9.9],[1.8,10.1],
[1.03,11],[1.13,10.9],[1.23,11.1],[1.33,10.9],[1.43,11.1],[1.53,10.9],[1.65,11.1],
[1.07,12],[1.17,12.1],[1.27,11.9],[1.37,12.1],[1.47,11.9],[1.58,12.1],[1.7,12.3],
[1.02,13],[1.12,12.9],[1.22,13.1],[1.32,12.9],[1.42,13.1],[1.55,13],[1.75,13.2],
[1.07,14],[1.17,14.1],[1.27,13.9],[1.37,14.1],[1.5,14],[1.62,14.3],
[1.03,15],[1.13,14.9],[1.23,15.1],[1.35,14.9],[1.47,15.1],
[1.08,15.8],[1.2,15.9],[1.33,15.7],[1.42,16.1],[1.2,17],[1.05,17.8],[1.22,18],[1.36,18.6],[1.16,19],[1.3,19.2],
[1.02,4.5],[1.1,4.5],[1.2,4.6],[1.3,4.5],[1.4,4.6],[1.5,4.5],[1.6,4.6],[1.7,4.4],[1.8,4.6],[1.9,4.6],[2,4.5],[2.12,4.6],[2.28,4.5],
[1.08,5.5],[1.18,5.6],[1.28,5.5],[1.38,5.6],[1.48,5.5],[1.58,5.6],[1.68,5.5],[1.78,5.6],[1.88,5.5],[2,5.6],[2.15,5.5],
[1.02,6.5],[1.12,6.5],[1.22,6.6],[1.32,6.5],[1.42,6.6],[1.52,6.5],[1.62,6.6],[1.72,6.5],[1.82,6.6],[1.95,6.5],
[1.07,7.5],[1.17,7.5],[1.27,7.6],[1.37,7.5],[1.47,7.6],[1.57,7.5],[1.67,7.6],[1.77,7.5],[1.9,7.5],
[1.02,8.5],[1.12,8.5],[1.22,8.6],[1.32,8.5],[1.42,8.6],[1.52,8.5],[1.62,8.6],[1.72,8.5],
[1.07,9.5],[1.17,9.5],[1.27,9.6],[1.37,9.5],[1.47,9.6],[1.57,9.5],[1.67,9.6],
[1.02,10.5],[1.12,10.5],[1.22,10.6],[1.32,10.5],[1.42,10.6],[1.52,10.5],
[1.07,11.5],[1.17,11.5],[1.27,11.6],[1.37,11.5],[1.47,11.6],
[1.02,12.5],[1.12,12.5],[1.22,12.6],[1.32,12.5],[1.42,12.6],[1.5,12.5],
[1.07,13.5],[1.17,13.5],[1.27,13.6],[1.37,13.5],[1.47,13.6],
[1.02,14.5],[1.12,14.5],[1.22,14.6],[1.32,14.5],[1.42,14.6],
[1.07,15.5],[1.17,15.5],[1.27,15.6],[1.37,15.4]];

// ---------- Helpers ----------
const SVG_NS = "http://www.w3.org/2000/svg";
function make(tag, attrs, parent, text) {
  const el = document.createElementNS(SVG_NS, tag);
  for (const k in attrs) el.setAttribute(k, attrs[k]);
  if (text !== undefined) el.textContent = text;
  parent.appendChild(el);
  return el;
}

// ---------- Panel A ----------
const barPanel = { left: 354, right: 1788, top: 94, bottom: 1167 };
const barFirstCenter = 520, barStep = 276, barWidth = 165;
function barX(i) { return barFirstCenter + i * barStep; }
function barY(v) { return 1118.6 - v * 0.3808; }
const panelA = document.getElementById("panelA");

const barBg = make("rect", { x: barPanel.left, y: barPanel.top, width: barPanel.right - barPanel.left, height: barPanel.bottom - barPanel.top, fill: "#EBEBEB" }, panelA);



barMinorTicks.forEach(function (v) {
  const g = make("line", { x1: barPanel.left, x2: barPanel.right, y1: barY(v), y2: barY(v), stroke: "#fff", "stroke-width": 1.6 }, panelA);
  
  
});
barTickLabels.forEach(function (v) {
  const g = make("line", { x1: barPanel.left, x2: barPanel.right, y1: barY(v), y2: barY(v), stroke: "#fff", "stroke-width": 3.2 }, panelA);
  
  
  const t = make("line", { x1: barPanel.left - 10, x2: barPanel.left, y1: barY(v), y2: barY(v), stroke: "#333", "stroke-width": 3 }, panelA);
  
  
  const l = make("text", { x: barPanel.left - 13, y: barY(v) + 15, "text-anchor": "end", "font-size": 45, fill: "#4D4D4D", class: "serif" }, panelA, String(v));
  
  
});
barCategories.forEach(function (c, i) {
  const g = make("line", { x1: barX(i), x2: barX(i), y1: barPanel.top, y2: barPanel.bottom, stroke: "#fff", "stroke-width": 3.2 }, panelA);
  
  
});
barCategories.forEach(function (c, i) {
  const b = make("rect", { x: barX(i) - barWidth / 2, y: barY(barValues[i]), width: barWidth, height: barY(0) - barY(barValues[i]), fill: "#FFA500" }, panelA);
  
  
  const t = make("line", { x1: barX(i), x2: barX(i), y1: barPanel.bottom, y2: barPanel.bottom + 11, stroke: "#333", "stroke-width": 3 }, panelA);
  
  
  const l = make("text", { x: barX(i), y: 1214, "text-anchor": "middle", "font-size": 45, fill: "#4D4D4D", class: "serif" }, panelA, c);
  
  
});
const barXTitle = make("text", { x: 1017, y: 1290, "text-anchor": "middle", "font-size": 50, fill: "#000", class: "serif" }, panelA, "Expression levels of TPM value");


const barYTitle = make("text", { transform: "translate(231,629) rotate(-90) scale(1,1.1)", "text-anchor": "middle", "font-size": 57, fill: "#000", class: "serif" }, panelA, "Gene numbers of H3K27ac");



// ---------- Panel B pie ----------
const pieCx = 1295, pieCy = 2007, pieR = 307;
const pieColors = ["#00FFFF", "#FF0000"];
const pieLabelPos = [{ x: 1422, y: 1921 }, { x: 1156, y: 2082 }];
const pieGroup = document.getElementById("pie");
const pieTotal = pieValues.reduce(function (a, b) { return a + b; }, 0);
let pieAngle = 0;
pieValues.forEach(function (v, i) {
  const a0 = pieAngle, a1 = pieAngle + v / pieTotal * Math.PI * 2;
  pieAngle = a1;
  const x0 = pieCx + pieR * Math.sin(a0), y0 = pieCy - pieR * Math.cos(a0);
  const x1 = pieCx + pieR * Math.sin(a1), y1 = pieCy - pieR * Math.cos(a1);
  const large = a1 - a0 > Math.PI ? 1 : 0;
  const s = make("path", { d: "M" + pieCx + " " + pieCy + " L" + x0 + " " + y0 + " A" + pieR + " " + pieR + " 0 " + large + " 1 " + x1 + " " + y1 + " Z", fill: pieColors[i], stroke: "#fff", "stroke-width": 1.5 }, pieGroup);
  
  
});
pieValues.forEach(function (v, i) {
  const t = make("text", { x: pieLabelPos[i].x, y: pieLabelPos[i].y, "text-anchor": "middle", "font-size": 46, fill: "#000", class: "sans" }, pieGroup, pieLabels[i]);
  
  
});

// ---------- Panel C ----------
const vol = { left: 2127, right: 4239, top: 48, bottom: 2563 };
function volX(v) { return 3077 + v * 123.2; }
function volY(v) { return 1627.5 - v * 19.03; }
const panelC = document.getElementById("panelC");
const volColors = ["#00BFFF", "#BA1EF5", "#00FF00", "#FF6347"];
const volSeries = [hDnGdn, hDnGup, hUpGdn, hUpGup];
const legendY = [246, 313, 381, 448];

volSeries.forEach(function (pts, s) {
  const grp = make("g", { fill: volColors[s] }, panelC);
  
  
  pts.forEach(function (p) {
    const c = make("circle", { cx: volX(p[0]), cy: volY(p[1]), r: 7.7 }, grp);
    
    
  });
});
xCutoffs.forEach(function (v) {
  const l = make("line", { x1: volX(v), x2: volX(v), y1: vol.top, y2: vol.bottom, stroke: "#000", "stroke-width": 4, "stroke-dasharray": "15 14" }, panelC);
  
  
});
yCutoffs.forEach(function (v) {
  const l = make("line", { x1: vol.left, x2: vol.right, y1: volY(v), y2: volY(v), stroke: "#000", "stroke-width": 4, "stroke-dasharray": "15 14" }, panelC);
  
  
});
const yAxisLine = make("line", { x1: vol.left, x2: vol.left, y1: vol.top, y2: vol.bottom + 2, stroke: "#222", "stroke-width": 4.5 }, panelC);


const xAxisLine = make("line", { x1: vol.left - 2, x2: vol.right, y1: vol.bottom, y2: vol.bottom, stroke: "#000", "stroke-width": 4.5 }, panelC);


volcanoYTicks.forEach(function (v) {
  const t = make("line", { x1: vol.left - 13, x2: vol.left, y1: volY(v), y2: volY(v), stroke: "#333", "stroke-width": 4 }, panelC);
  
  
  const l = make("text", { x: vol.left - 27, y: volY(v) + 14, "text-anchor": "end", "font-size": 42, fill: "#4D4D4D", class: "serif" }, panelC, String(v));
  
  
});
volcanoXTicks.forEach(function (v) {
  const t = make("line", { x1: volX(v), x2: volX(v), y1: vol.bottom, y2: vol.bottom + 13, stroke: "#333", "stroke-width": 4 }, panelC);
  
  
  const l = make("text", { x: volX(v), y: 2617, "text-anchor": "middle", "font-size": 42, fill: "#4D4D4D", class: "serif" }, panelC, String(v));
  
  
});
const volXTitle = make("text", { x: 3182, y: 2688, "text-anchor": "middle", "font-size": 55, fill: "#000", class: "serif" }, panelC, "log2FC");


const volYTitle = make("text", { transform: "translate(2019,1305) rotate(-90) scale(1,1.08)", "text-anchor": "middle", "font-size": 57, fill: "#000", class: "serif" }, panelC, "log10 likehood ratio");



const legendTitle = make("text", { x: 3900, y: 169, "font-size": 70, fill: "#000", class: "serif" }, panelC, "CHANGE");


seriesNames.forEach(function (n, i) {
  const c = make("circle", { cx: 3934, cy: legendY[i], r: 9, fill: volColors[i] }, panelC);
  
  
  const t = make("text", { x: 4004, y: legendY[i] + 19, "font-size": 56, fill: "#000", class: "serif" }, panelC, n);
  
  
});
</script>
</body>
</html>
